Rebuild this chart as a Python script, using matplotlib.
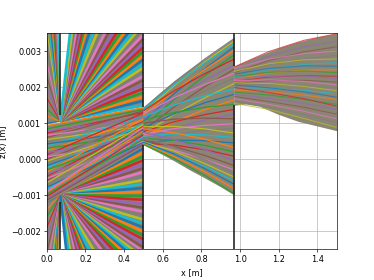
"""Ray paths through the three slits, z(x) against x. Heights are kept in mm."""
import matplotlib
matplotlib.use("Agg")
import matplotlib.pyplot as plt
import numpy as np

SLIT_X = [0.07, 0.5, 0.97]
END_X = 1.5
# openings in the slit walls
OPEN_LOW = [-1.18, 0.40, 1.50]
OPEN_HIGH = [1.22, 1.45, 2.58]
PIVOT_UP = 1.05
PIVOT_DOWN = -1.00

# rays converging on the slit edges from x=0, z at x=0
left_up_z0 = [1.0, 1.2, 1.4, 1.7, 2.0, 2.3, 2.7, 3.1, 3.6, 4.1,
              4.7, 5.4, 6.2, 7.1, 8.1, 9.2, 10.5, 12.0, 14.0, 16.5]
left_down_z0 = [-1.2, -1.4, -1.6, -1.9, -2.2, -2.6, -3.0, -3.5, -4.0,
                -4.6, -5.3, -6.1, -7.0, -8.0, -9.1, -10.4, -12.0, -14.0, -16.5]

# fans leaving the slit edges, z at x=0.5
fan_up_z5 = [1.50, 1.62, 1.73, 1.85, 1.96, 2.08, 2.19, 2.31, 2.42, 2.54,
             2.65, 2.77, 2.88, 3.00, 3.11, 3.23, 3.34, 3.46, 3.62, 3.75,
             3.90, 4.06, 4.24, 4.45, 4.68, 4.95, 5.27, 5.63, 6.07, 6.59,
             7.25, 8.07, 9.16, 9.83, 10.63, 11.58, 12.75, 14.22, 16.10, 18.61, 22.12]
fan_down_z5 = [0.30, 0.19, 0.08, -0.03, -0.14, -0.25, -0.36, -0.47, -0.58, -0.69,
               -0.80, -0.91, -1.02, -1.13, -1.24, -1.35, -1.46, -1.57, -1.68, -1.79,
               -1.90, -2.01, -2.12, -2.23, -2.34, -2.45, -2.57, -2.65, -2.74, -2.84,
               -2.95, -3.08, -3.22, -3.39, -3.58, -3.80, -4.07, -4.39, -4.79, -5.30,
               -5.96, -6.38, -6.86, -7.45, -8.17, -9.06, -10.21, -11.75, -13.90, -17.10, -22.50]
fan_up_edge = 22.5
fan_down_edge = -22.5

# central beam up to the second slit
band1_x = [0.0, 0.07, 0.17, 0.28, 0.5]
band1_high = [0.95, 1.02, 1.12, 1.25, 1.45]
band1_low = [-1.18, -0.98, -0.68, -0.33, 0.37]
band1_z0 = [0.93, 0.84, 0.72, 0.78, 0.60, 0.66, 0.48, 0.54, 0.36, 0.42, 0.24, 0.30,
            0.12, 0.18, 0.00, 0.06, -0.12, -0.06, -0.24, -0.18, -0.36, -0.30, -0.48, -0.42,
            -0.60, -0.54, -0.72, -0.66, -0.84, -0.78, -0.92, -0.98, -1.04, -1.10, -1.14, -0.90]
band1_z5 = [1.43, 1.38, 1.30, 1.16, 1.34, 1.02, 1.24, 0.92, 1.18, 0.80, 1.10, 0.70,
            1.28, 0.62, 1.04, 0.54, 1.20, 0.86, 0.98, 0.76, 1.12, 0.66, 0.92, 0.58,
            0.84, 0.50, 0.72, 0.96, 0.62, 0.46, 0.78, 0.55, 0.68, 0.44, 0.41, 0.88]

# beam between second and third slit
band2_x = [0.5, 0.58, 0.66, 0.74, 0.82, 0.9, 0.97]
band2_high = [1.42, 1.82, 2.17, 2.50, 2.80, 3.10, 3.37]
band2_low = [0.40, 0.18, -0.05, -0.30, -0.53, -0.77, -1.00]
band2_ray_x = [0.5, 0.66, 0.82, 0.97]
band2_a = [1.41, 1.30, 1.38, 1.05, 1.22, 0.92, 1.34, 1.12, 0.80, 1.26, 0.98, 0.70,
           1.18, 0.88, 0.62, 1.08, 0.76, 0.55, 1.00, 0.68, 0.50, 0.90, 0.64, 0.46,
           0.84, 0.58, 0.44, 0.74, 0.52, 0.43, 0.60, 0.48, 0.42, 0.47, 0.43, 0.41]
band2_b = [2.14, 2.04, 2.07, 1.82, 1.90, 1.66, 1.90, 1.70, 1.45, 1.71, 1.48, 1.25,
           1.51, 1.26, 1.04, 1.30, 1.04, 0.86, 1.11, 0.85, 0.69, 0.91, 0.70, 0.53,
           0.73, 0.52, 0.39, 0.54, 0.35, 0.25, 0.33, 0.22, 0.14, 0.14, 0.07, 0.01]
band2_c = [2.79, 2.71, 2.68, 2.52, 2.50, 2.33, 2.38, 2.20, 2.02, 2.08, 1.90, 1.71,
           1.76, 1.57, 1.38, 1.44, 1.24, 1.09, 1.14, 0.94, 0.80, 0.84, 0.67, 0.51,
           0.55, 0.38, 0.26, 0.26, 0.10, -0.01, -0.02, -0.13, -0.21, -0.27, -0.36, -0.46]
band2_d = [3.35, 3.28, 3.20, 3.12, 3.02, 2.90, 2.78, 2.62, 2.50, 2.38, 2.25, 2.10,
           1.95, 1.80, 1.65, 1.52, 1.38, 1.25, 1.12, 0.98, 0.85, 0.72, 0.60, 0.45,
           0.32, 0.20, 0.08, -0.05, -0.18, -0.30, -0.40, -0.50, -0.60, -0.70, -0.82, -0.96]

# beam after the third slit
band3_x = [0.97, 1.03, 1.1, 1.2, 1.3, 1.4, 1.5]
band3_high = [2.58, 2.72, 2.88, 3.09, 3.26, 3.39, 3.49]
band3_low = [1.50, 1.53, 1.47, 1.24, 1.05, 0.92, 0.79]
band3_ray_x = [0.97, 1.15, 1.33, 1.5]
band3_a = [2.56, 2.48, 2.40, 2.52, 2.34, 2.44, 2.28, 2.36, 2.22, 2.30, 2.16, 2.24, 2.10,
           2.18, 2.04, 2.12, 1.98, 2.06, 1.92, 1.86, 1.99, 1.80, 1.74, 1.68, 1.62, 1.55]
band3_b = [2.99, 2.86, 2.74, 2.78, 2.62, 2.65, 2.50, 2.52, 2.39, 2.41, 2.28, 2.30, 2.18,
           2.20, 2.07, 2.10, 1.97, 1.98, 1.87, 1.78, 1.85, 1.69, 1.60, 1.52, 1.44, 1.38]
band3_c = [3.30, 3.12, 2.98, 2.93, 2.79, 2.76, 2.63, 2.59, 2.47, 2.45, 2.32, 2.31, 2.19,
           2.16, 2.05, 2.02, 1.91, 1.87, 1.78, 1.66, 1.68, 1.55, 1.44, 1.33, 1.24, 1.13]
band3_d = [3.48, 3.28, 3.12, 3.00, 2.88, 2.78, 2.68, 2.58, 2.48, 2.40, 2.30, 2.24, 2.14,
           2.06, 1.98, 1.90, 1.82, 1.72, 1.66, 1.52, 1.47, 1.38, 1.25, 1.12, 1.02, 0.88]

X_TICKS = [0.0, 0.2, 0.4, 0.6, 0.8, 1.0, 1.2, 1.4]
Y_TICKS = [-0.002, -0.001, 0.0, 0.001, 0.002, 0.003]
BEAM = "#8b8574"


def m(values):
    return np.asarray(values, dtype=float) / 1000.0


def beam(ax, x, low, high):
    # dense overlap of rays reads as one muddy colour, streaks go on top
    ax.fill_between(x, m(low), m(high), color=BEAM, lw=0, zorder=2)


def main():
    plt.rcParams["lines.solid_capstyle"] = "butt"
    fig, ax = plt.subplots(figsize=(6.4, 4.8), dpi=58.45)

    x0, x1, x2 = SLIT_X
    beam(ax, [0, x0], [band1_high[0], PIVOT_UP], [left_up_z0[-1], PIVOT_UP])
    beam(ax, [0, x0], [left_down_z0[-1], PIVOT_DOWN], [band1_low[0], PIVOT_DOWN])
    beam(ax, [x0, x1], [PIVOT_UP, band1_high[-1]], [PIVOT_UP, fan_up_edge])
    beam(ax, [x0, x1], [PIVOT_DOWN, fan_down_edge], [PIVOT_DOWN, band1_low[-1]])

    for z in left_up_z0:
        ax.plot([0, x0], m([z, PIVOT_UP]), lw=1.4)
    for z in left_down_z0:
        ax.plot([0, x0], m([z, PIVOT_DOWN]), lw=1.4)
    for z in fan_up_z5:
        ax.plot([x0, x1], m([PIVOT_UP, z]), lw=3.2)
    for z in fan_down_z5:
        ax.plot([x0, x1], m([PIVOT_DOWN, z]), lw=3.2)

    beam(ax, band1_x, band1_low, band1_high)
    for a, b in zip(band1_z0, band1_z5):
        ax.plot([0, x1], m([a, b]), lw=1.6)

    beam(ax, band2_x, band2_low, band2_high)
    for ray in zip(band2_a, band2_b, band2_c, band2_d):
        ax.plot(band2_ray_x, m(ray), lw=1.5)

    beam(ax, band3_x, band3_low, band3_high)
    for ray in zip(band3_a, band3_b, band3_c, band3_d):
        ax.plot(band3_ray_x, m(ray), lw=1.3, alpha=0.75)

    # slit walls
    for x, low, high in zip(SLIT_X, OPEN_LOW, OPEN_HIGH):
        ax.plot([x, x], m([high, 3.5]), color="#222222", lw=2, zorder=3)
        ax.plot([x, x], m([-2.5, low]), color="#222222", lw=2, zorder=3)

    ax.set_xlim(0, END_X)
    ax.set_ylim(-0.0025, 0.0035)
    ax.set_xticks(X_TICKS)
    ax.set_yticks(Y_TICKS)
    ax.grid(True)
    ax.set_xlabel("x [m]")
    ax.set_ylabel("z(x) [m]")
    fig.savefig("out.png", dpi=58.45)


if __name__ == "__main__":
    main()
